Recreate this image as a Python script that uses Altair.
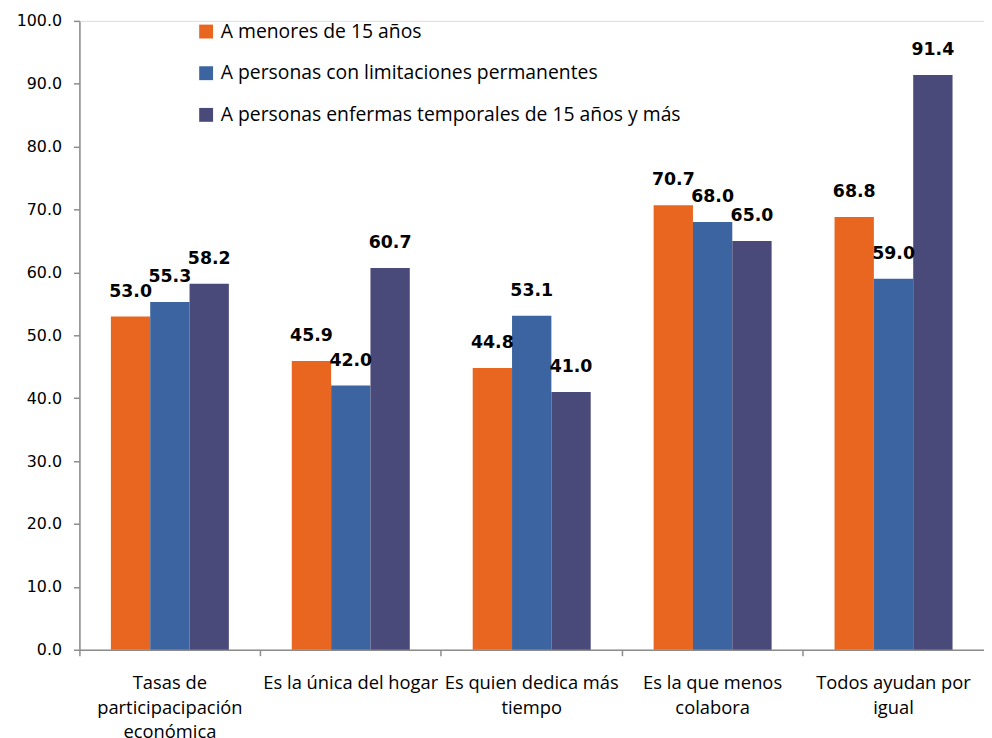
import altair as alt
import pandas as pd

categorias = [
    "Tasas de|participacipación|económica",
    "Es la única del hogar",
    "Es quien dedica más|tiempo",
    "Es la que menos|colabora",
    "Todos ayudan por|igual",
]
series = [
    "A menores de 15 años",
    "A personas con limitaciones permanentes",
    "A personas enfermas temporales de 15 años y más",
]
menores = [53.0, 45.9, 44.8, 70.7, 68.8]
limitaciones = [55.3, 42.0, 53.1, 68.0, 59.0]
enfermas = [58.2, 60.7, 41.0, 65.0, 91.4]
colores = ["#E8661F", "#3B64A0", "#4A4A7A"]
y_ticks = [0, 10, 20, 30, 40, 50, 60, 70, 80, 90, 100]

rows = []
for i, cat in enumerate(categorias):
    for s, vals in zip(series, [menores, limitaciones, enfermas]):
        rows.append({"categoria": cat, "serie": s, "valor": vals[i]})
df = pd.DataFrame(rows)

x = alt.X(
    "categoria:N",
    sort=categorias,
    scale=alt.Scale(paddingInner=0, paddingOuter=0),
    axis=alt.Axis(
        title=None,
        labelAngle=0,
        bandPosition=0,
        labelExpr="split(datum.label, '|')",
        labelFont="Open Sans",
        labelFontSize=18.5,
        labelColor="#000000",
        labelLineHeight=25,
        labelBaseline="top",
        labelPadding=18,
        labelOverlap=False,
        labelFlush=False,
        labelBound=False,
        tickSize=6,
        tickColor="#8C8C8C",
        domainColor="#8C8C8C",
        domainWidth=1.5,
        tickWidth=1.5,
    ),
)
xoff = alt.XOffset(
    "serie:N",
    sort=series,
    scale=alt.Scale(paddingInner=0, paddingOuter=0.8),
)
y = alt.Y(
    "valor:Q",
    scale=alt.Scale(domain=[0, 100], nice=False),
    axis=alt.Axis(
        title=None,
        values=y_ticks,
        format=".1f",
        grid=False,
        labelFont="DejaVu Sans",
        labelFontSize=16,
        labelColor="#000000",
        labelPadding=12,
        tickSize=6,
        tickColor="#8C8C8C",
        domainColor="#8C8C8C",
        domainWidth=1.5,
        tickWidth=1.5,
    ),
)
color = alt.Color(
    "serie:N",
    sort=series,
    scale=alt.Scale(domain=series, range=colores),
    legend=alt.Legend(
        orient="none",
        legendX=118,
        legendY=1,
        title=None,
        symbolType="square",
        symbolSize=196,
        symbolStrokeWidth=0,
        labelFont="Open Sans",
        labelFontSize=19.5,
        labelColor="#000000",
        labelOffset=5,
        rowPadding=21,
        padding=0,
        labelLimit=600,
    ),
)

base = alt.Chart(df)
bars = base.mark_bar().encode(x=x, xOffset=xoff, y=y, color=color)
labels = base.mark_text(
    font="DejaVu Sans", fontWeight="bold", fontSize=17.5, dy=-25, color="#000000"
).encode(x=x, xOffset=xoff, y=y, text=alt.Text("valor:Q", format=".1f"))

chart = (
    alt.layer(bars, labels)
    .properties(
        width=912,
        height=634,
        autosize=alt.AutoSizeParams(type="none"),
        padding={"left": 72, "top": 10, "right": 0, "bottom": 86},
    )
    .configure_view(stroke=None)
    .configure(background="#FFFFFF")
)
chart.save("out.html", embed_options={"renderer": "svg", "actions": False})
